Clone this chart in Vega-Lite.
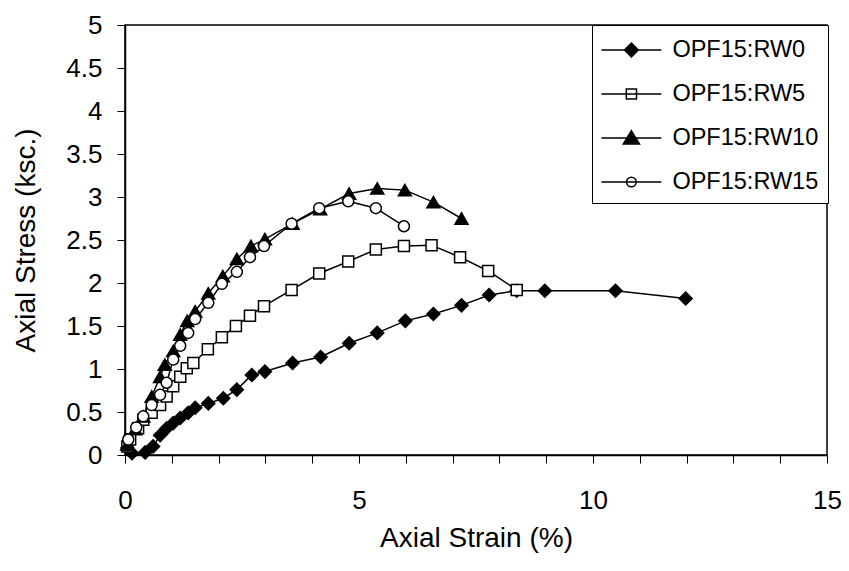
{
  "$schema": "https://vega.github.io/schema/vega-lite/v6.json",
  "width": 702,
  "height": 430,
  "autosize": {"type": "none"},
  "padding": {"left": 125, "top": 25, "right": 22, "bottom": 116},
  "background": "white",
  "config": {
    "font": "Liberation Sans",
    "view": {"stroke": "black", "strokeWidth": 1.5},
    "axis": {
      "grid": false,
      "domainColor": "black",
      "domainWidth": 1.5,
      "tickColor": "black",
      "tickWidth": 1,
      "tickSize": 8,
      "labelColor": "black",
      "titleColor": "black",
      "labelFont": "Liberation Sans",
      "titleFont": "Liberation Sans",
      "titleFontWeight": "normal",
      "labelFontSize": 26,
      "titleFontSize": 28
    }
  },
  "data": {
    "values": [
      {"s": "OPF15:RW0", "x": 0.05, "y": 0.08},
      {"s": "OPF15:RW0", "x": 0.15, "y": 0.02},
      {"s": "OPF15:RW0", "x": 0.43, "y": 0.03},
      {"s": "OPF15:RW0", "x": 0.6, "y": 0.1},
      {"s": "OPF15:RW0", "x": 0.75, "y": 0.23},
      {"s": "OPF15:RW0", "x": 0.89, "y": 0.31},
      {"s": "OPF15:RW0", "x": 1.03, "y": 0.37},
      {"s": "OPF15:RW0", "x": 1.18, "y": 0.43},
      {"s": "OPF15:RW0", "x": 1.35, "y": 0.49},
      {"s": "OPF15:RW0", "x": 1.5, "y": 0.55},
      {"s": "OPF15:RW0", "x": 1.78, "y": 0.6},
      {"s": "OPF15:RW0", "x": 2.1, "y": 0.66},
      {"s": "OPF15:RW0", "x": 2.39, "y": 0.76},
      {"s": "OPF15:RW0", "x": 2.71, "y": 0.93},
      {"s": "OPF15:RW0", "x": 2.99, "y": 0.97},
      {"s": "OPF15:RW0", "x": 3.58, "y": 1.07},
      {"s": "OPF15:RW0", "x": 4.18, "y": 1.14},
      {"s": "OPF15:RW0", "x": 4.79, "y": 1.3},
      {"s": "OPF15:RW0", "x": 5.39, "y": 1.42},
      {"s": "OPF15:RW0", "x": 5.99, "y": 1.56},
      {"s": "OPF15:RW0", "x": 6.59, "y": 1.64},
      {"s": "OPF15:RW0", "x": 7.19, "y": 1.74},
      {"s": "OPF15:RW0", "x": 7.78, "y": 1.86},
      {"s": "OPF15:RW0", "x": 8.37, "y": 1.91},
      {"s": "OPF15:RW0", "x": 8.97, "y": 1.91},
      {"s": "OPF15:RW0", "x": 10.48, "y": 1.91},
      {"s": "OPF15:RW0", "x": 11.98, "y": 1.82},
      {"s": "OPF15:RW5", "x": 0.05, "y": 0.1},
      {"s": "OPF15:RW5", "x": 0.11, "y": 0.18},
      {"s": "OPF15:RW5", "x": 0.28, "y": 0.31},
      {"s": "OPF15:RW5", "x": 0.39, "y": 0.41},
      {"s": "OPF15:RW5", "x": 0.57, "y": 0.49},
      {"s": "OPF15:RW5", "x": 0.75, "y": 0.58},
      {"s": "OPF15:RW5", "x": 0.89, "y": 0.68},
      {"s": "OPF15:RW5", "x": 1.03, "y": 0.8},
      {"s": "OPF15:RW5", "x": 1.18, "y": 0.91},
      {"s": "OPF15:RW5", "x": 1.32, "y": 1.01},
      {"s": "OPF15:RW5", "x": 1.46, "y": 1.07},
      {"s": "OPF15:RW5", "x": 1.77, "y": 1.23},
      {"s": "OPF15:RW5", "x": 2.07, "y": 1.37},
      {"s": "OPF15:RW5", "x": 2.37, "y": 1.5},
      {"s": "OPF15:RW5", "x": 2.67, "y": 1.62},
      {"s": "OPF15:RW5", "x": 2.97, "y": 1.73},
      {"s": "OPF15:RW5", "x": 3.56, "y": 1.92},
      {"s": "OPF15:RW5", "x": 4.15, "y": 2.11},
      {"s": "OPF15:RW5", "x": 4.77, "y": 2.25},
      {"s": "OPF15:RW5", "x": 5.36, "y": 2.39},
      {"s": "OPF15:RW5", "x": 5.96, "y": 2.43},
      {"s": "OPF15:RW5", "x": 6.55, "y": 2.44},
      {"s": "OPF15:RW5", "x": 7.16, "y": 2.3},
      {"s": "OPF15:RW5", "x": 7.76, "y": 2.14},
      {"s": "OPF15:RW5", "x": 8.37, "y": 1.92},
      {"s": "OPF15:RW10", "x": 0.05, "y": 0.12},
      {"s": "OPF15:RW10", "x": 0.22, "y": 0.3},
      {"s": "OPF15:RW10", "x": 0.39, "y": 0.45},
      {"s": "OPF15:RW10", "x": 0.57, "y": 0.68},
      {"s": "OPF15:RW10", "x": 0.75, "y": 0.91},
      {"s": "OPF15:RW10", "x": 0.85, "y": 1.05},
      {"s": "OPF15:RW10", "x": 1.03, "y": 1.21},
      {"s": "OPF15:RW10", "x": 1.18, "y": 1.4},
      {"s": "OPF15:RW10", "x": 1.33, "y": 1.56},
      {"s": "OPF15:RW10", "x": 1.5, "y": 1.67},
      {"s": "OPF15:RW10", "x": 1.78, "y": 1.88},
      {"s": "OPF15:RW10", "x": 2.09, "y": 2.08},
      {"s": "OPF15:RW10", "x": 2.39, "y": 2.28},
      {"s": "OPF15:RW10", "x": 2.69, "y": 2.43},
      {"s": "OPF15:RW10", "x": 2.99, "y": 2.51},
      {"s": "OPF15:RW10", "x": 3.58, "y": 2.69},
      {"s": "OPF15:RW10", "x": 4.17, "y": 2.86},
      {"s": "OPF15:RW10", "x": 4.79, "y": 3.04},
      {"s": "OPF15:RW10", "x": 5.39, "y": 3.1},
      {"s": "OPF15:RW10", "x": 5.98, "y": 3.08},
      {"s": "OPF15:RW10", "x": 6.59, "y": 2.94},
      {"s": "OPF15:RW10", "x": 7.19, "y": 2.75},
      {"s": "OPF15:RW15", "x": 0.07, "y": 0.18},
      {"s": "OPF15:RW15", "x": 0.24, "y": 0.32},
      {"s": "OPF15:RW15", "x": 0.39, "y": 0.45},
      {"s": "OPF15:RW15", "x": 0.57, "y": 0.58},
      {"s": "OPF15:RW15", "x": 0.75, "y": 0.7},
      {"s": "OPF15:RW15", "x": 0.89, "y": 0.84},
      {"s": "OPF15:RW15", "x": 1.03, "y": 1.11},
      {"s": "OPF15:RW15", "x": 1.18, "y": 1.27},
      {"s": "OPF15:RW15", "x": 1.35, "y": 1.42},
      {"s": "OPF15:RW15", "x": 1.5, "y": 1.58},
      {"s": "OPF15:RW15", "x": 1.78, "y": 1.77},
      {"s": "OPF15:RW15", "x": 2.07, "y": 1.99},
      {"s": "OPF15:RW15", "x": 2.39, "y": 2.13},
      {"s": "OPF15:RW15", "x": 2.67, "y": 2.3},
      {"s": "OPF15:RW15", "x": 2.97, "y": 2.43},
      {"s": "OPF15:RW15", "x": 3.56, "y": 2.69},
      {"s": "OPF15:RW15", "x": 4.15, "y": 2.87},
      {"s": "OPF15:RW15", "x": 4.77, "y": 2.95},
      {"s": "OPF15:RW15", "x": 5.36, "y": 2.87},
      {"s": "OPF15:RW15", "x": 5.96, "y": 2.66}
    ]
  },
  "encoding": {
    "x": {
      "field": "x",
      "type": "quantitative",
      "scale": {"domain": [0, 15], "nice": false, "zero": false},
      "axis": {
        "title": "Axial Strain (%)",
        "values": [0, 1, 2, 3, 4, 5, 6, 7, 8, 9, 10, 11, 12, 13, 14, 15],
        "format": "d",
        "labelExpr": "datum.value % 5 === 0 ? datum.label : ''",
        "labelPadding": 24,
        "titlePadding": 11,
        "labelFlush": false,
        "labelOverlap": false
      }
    },
    "y": {
      "field": "y",
      "type": "quantitative",
      "scale": {"domain": [0, 5], "nice": false},
      "axis": {
        "title": "Axial Stress (ksc.)",
        "values": [0, 0.5, 1, 1.5, 2, 2.5, 3, 3.5, 4, 4.5, 5],
        "format": "~g",
        "labelPadding": 15,
        "titlePadding": 25,
        "labelFlush": false,
        "labelOverlap": false
      }
    }
  },
  "layer": [
    {
      "mark": {"type": "line", "color": "black", "strokeWidth": 1.5},
      "encoding": {"detail": {"field": "s"}}
    },
    {
      "mark": {"type": "point", "stroke": "black", "strokeWidth": 1.5, "opacity": 1, "filled": false},
      "encoding": {
        "fill": {
          "field": "s",
          "type": "nominal",
          "scale": {
            "domain": ["OPF15:RW0", "OPF15:RW5", "OPF15:RW10", "OPF15:RW15"],
            "range": ["black", "white", "black", "white"]
          },
          "legend": {
            "title": null,
            "orient": "none",
            "legendX": 467,
            "legendY": 0,
            "strokeColor": "black",
            "fillColor": "white",
            "padding": 9,
            "symbolSize": 900,
            "symbolOffset": 14.4,
            "symbolStrokeWidth": 1.5,
            "symbolStrokeColor": "black",
            "labelFontSize": 23.5,
            "labelColor": "black",
            "labelFont": "Liberation Sans",
            "labelOffset": 25,
            "rowPadding": 16,
            "encoding": {
              "symbols": {
                "shape": {"value": {"expr": "datum.value === 'OPF15:RW0' ? 'M-2,0H2M0,-0.46L0.46,0L0,0.46L-0.46,0Z' : datum.value === 'OPF15:RW5' ? 'M-2,0H2M-0.34,-0.34H0.34V0.34H-0.34Z' : datum.value === 'OPF15:RW10' ? 'M-2,0H2M0,-0.48L0.54,0.4H-0.54Z' : 'M-2,0H2M-0.32,0A0.32,0.32 0 1,0 0.32,0A0.32,0.32 0 1,0 -0.32,0Z'"}},
                "stroke": {"value": "black"},
                "strokeWidth": {"value": 1.5},
                "opacity": {"value": 1}
              }
            }
          }
        },
        "shape": {
          "condition": [
            {"test": "datum.s === 'OPF15:RW0'", "value": "diamond"},
            {"test": "datum.s === 'OPF15:RW5'", "value": "square"},
            {"test": "datum.s === 'OPF15:RW10'", "value": "triangle-up"}
          ],
          "value": "circle"
        },
        "size": {
          "condition": [
            {"test": "datum.s === 'OPF15:RW0'", "value": 169},
            {"test": "datum.s === 'OPF15:RW10'", "value": 170}
          ],
          "value": 121
        }
      }
    }
  ]
}
